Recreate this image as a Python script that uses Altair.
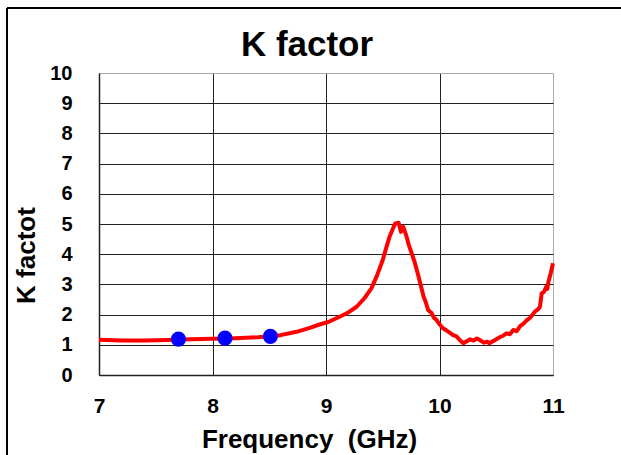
import altair as alt
import pandas as pd

# Red curve: K factor vs frequency (GHz)
freq = [7.00, 7.20, 7.40, 7.60, 7.80, 8.00, 8.20, 8.40, 8.60, 8.74, 8.85, 8.95, 9.03,
        9.12, 9.20, 9.27, 9.34, 9.40, 9.45, 9.50, 9.53, 9.56, 9.59, 9.61, 9.64, 9.66,
        9.68, 9.71, 9.73, 9.755, 9.78, 9.80, 9.83, 9.86, 9.88, 9.90, 9.93, 9.95, 9.975,
        10.00, 10.03, 10.06, 10.09, 10.12, 10.15, 10.18, 10.21, 10.24, 10.27, 10.30,
        10.33, 10.36, 10.39, 10.42, 10.44, 10.47, 10.50, 10.53, 10.56, 10.59, 10.62,
        10.65, 10.68, 10.71, 10.74, 10.77, 10.80, 10.84, 10.87, 10.885, 10.90, 10.92,
        10.94, 10.95, 10.96, 10.98, 11.00]
kval = [1.17, 1.14, 1.14, 1.16, 1.18, 1.20, 1.22, 1.25, 1.32, 1.43, 1.55, 1.68, 1.77,
        1.93, 2.08, 2.26, 2.55, 2.87, 3.30, 3.81, 4.20, 4.58, 4.85, 5.02, 5.04, 4.74,
        4.91, 4.58, 4.30, 4.03, 3.75, 3.48, 3.05, 2.59, 2.40, 2.15, 2.05, 1.90, 1.82,
        1.68, 1.55, 1.48, 1.40, 1.32, 1.28, 1.15, 1.05, 1.12, 1.18, 1.14,
        1.21, 1.15, 1.07, 1.10, 1.05, 1.12, 1.18, 1.25, 1.30, 1.38, 1.35,
        1.49, 1.45, 1.62, 1.70, 1.82, 1.90, 2.10, 2.18, 2.26, 2.70, 2.75,
        2.92, 2.85, 3.09, 3.37, 3.70]

# Blue markers
pt_freq = [7.70, 8.11, 8.51]
pt_k = [1.19, 1.22, 1.28]

x_ticks = [7, 8, 9, 10, 11]
y_ticks = [0, 1, 2, 3, 4, 5, 6, 7, 8, 9, 10]

chart_title = ["K factor"]

FONT = "Liberation Sans"

curve = pd.DataFrame({"f": freq, "k": kval})
pts = pd.DataFrame({"f": pt_freq, "k": pt_k})

x_scale = alt.Scale(domain=[7, 11], nice=False, zero=False)
y_scale = alt.Scale(domain=[0, 10], nice=False)

x_axis = alt.Axis(
    values=x_ticks, format="d", title="Frequency\u00a0 (GHz)",
    ticks=False, labelPadding=20, labelFontSize=21, labelFont=FONT,
    labelFontWeight="bold", labelColor="black", labelOverlap=False,
    titleFontSize=26, titleFont=FONT, titleFontWeight="bold", titleColor="black",
    titleX=210, titleY=72, titleAnchor="start", titleAlign="center",
    titleBaseline="alphabetic",
    domainColor="#222222", domainWidth=1.5,
    gridColor={"condition": {"test": "datum.value >= 11", "value": "#aaaaaa"}, "value": "#222222"},
    gridWidth=1, labelFlush=False,
)
y_axis = alt.Axis(
    values=y_ticks, tickCount=11, format="d", title="K factot",
    ticks=False, labelPadding=27, labelFontSize=20, labelFont=FONT,
    labelFontWeight="bold", labelColor="black", labelOverlap=False,
    titleFontSize=26, titleFont=FONT, titleFontWeight="bold", titleColor="black",
    titleX=-73, titleY=182, titleAnchor="start", titleAlign="center",
    titleBaseline="middle", titleAngle=270,
    domainColor="#222222", domainWidth=1.5,
    gridColor={"condition": {"test": "datum.value >= 10", "value": "#aaaaaa"}, "value": "#222222"},
    gridWidth=1, labelFlush=False,
)

line = alt.Chart(curve).mark_line(color="#ff0000", strokeWidth=4, strokeJoin="round").encode(
    x=alt.X("f:Q", scale=x_scale, axis=x_axis),
    y=alt.Y("k:Q", scale=y_scale, axis=y_axis),
)
dots = alt.Chart(pts).mark_circle(color="#0000ff", opacity=1, size=230).encode(
    x=alt.X("f:Q", scale=x_scale, axis=x_axis),
    y=alt.Y("k:Q", scale=y_scale, axis=y_axis),
)

# chart title as text
title_df = pd.DataFrame({"t": chart_title})
title = alt.Chart(title_df).mark_text(
    font=FONT, fontSize=35, fontWeight="bold", color="black",
    align="center", baseline="alphabetic",
).encode(text="t:N", x=alt.value(208), y=alt.value(-17))

# outer frame (decorative, top and left edges)
frame_df = pd.DataFrame({"a": [0]})
frame_top = alt.Chart(frame_df).mark_rule(color="black", strokeWidth=2).encode(
    x=alt.value(-92), x2=alt.value(522), y=alt.value(-65)
)
frame_left = alt.Chart(frame_df).mark_rule(color="black", strokeWidth=2).encode(
    x=alt.value(-92), y=alt.value(-65), y2=alt.value(382)
)

chart = alt.layer(line, dots, title, frame_top, frame_left).properties(
    width=454, height=302,
    autosize=alt.AutoSizeParams(type="none"),
    padding={"left": 99, "top": 73, "right": 68, "bottom": 80},
).configure_view(
    stroke="#aaaaaa", strokeWidth=1.5
).configure(background="white")

chart.save("out.html", embed_options={"renderer": "svg", "actions": False})
